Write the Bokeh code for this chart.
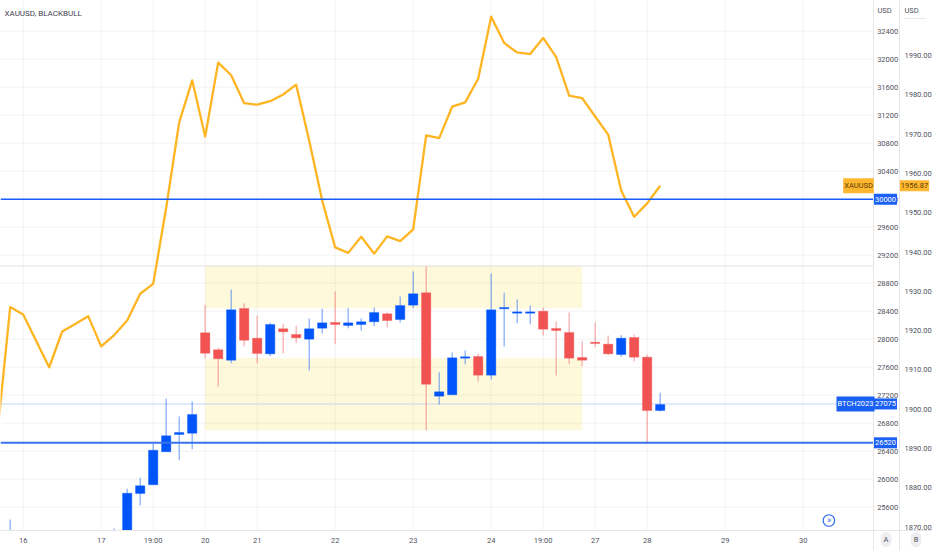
from bokeh.plotting import figure
from bokeh.models import Range1d, LinearAxis, FixedTicker, Label, ColumnDataSource, PrintfTickFormatter
from bokeh.embed import file_html
from bokeh.resources import INLINE

tick_pos = [0, 6, 10, 14, 18, 24, 30, 36, 40, 44, 48, 54, 60]
tick_txt = ["16", "17", "19:00", "20", "21", "22", "23", "24", "19:00", "27", "28", "29", "30"]

idx = [-1, 7, 8, 9, 10, 11, 12, 13, 14, 15, 16, 17, 18, 19, 20, 21, 22, 23, 24, 25, 26, 27, 28, 29,
       30, 31, 32, 33, 34, 35, 36, 37, 38, 39, 40, 41, 42, 43, 44, 45, 46, 47, 48, 49]
opens = [25267, 25267, 25267, 25796, 25920, 26392, 26639, 26657, 28091, 27849, 27700, 28439, 28014, 27791,
         28149, 28067, 28000, 28157, 28239, 28196, 28210, 28249, 28363, 28281, 28486, 28663, 27186, 27206,
         27729, 27753, 27486, 28434, 28371, 28371, 28400, 28153, 28096, 27739, 27957, 27929, 27781, 28024,
         27743, 26981]
highs = [25424, 25296, 25863, 26020, 26506, 27153, 26896, 27110, 28491, 27877, 28710, 28514, 28339, 28234,
         28220, 28191, 28296, 28434, 28681, 28443, 28296, 28453, 28381, 28610, 28967, 29039, 27529, 27810,
         27839, 27791, 28939, 28663, 28567, 28481, 28453, 28253, 28381, 27971, 28239, 28053, 28057, 28067,
         27781, 27234]
lows = [25267, 25267, 25267, 25624, 25920, 26392, 26271, 26429, 27729, 27324, 27657, 27896, 27657, 27757,
        27800, 27943, 27553, 28086, 27929, 28157, 28124, 28186, 28167, 28239, 28443, 26696, 27067, 27206,
        27643, 27396, 27424, 27896, 28229, 28214, 28053, 27481, 27643, 27614, 27886, 27771, 27749, 27681,
        26514, 26967]
closes = [25267, 25267, 25800, 25906, 26414, 26620, 26667, 26924, 27800, 27720, 28420, 27986, 27796, 28210,
          28106, 28020, 28149, 28234, 28210, 28234, 28249, 28381, 28267, 28481, 28649, 27357, 27249, 27734,
          27749, 27486, 28420, 28453, 28391, 28391, 28143, 28124, 27729, 27700, 27939, 27791, 28014, 27743,
          26981, 27067]

gold_idx = list(range(-2, 50))
gold = [1893.3, 1926.0, 1924.1, 1917.4, 1910.7, 1919.8, 1921.7, 1923.7, 1916.0, 1918.9, 1922.6, 1929.4,
        1931.9, 1951.3, 1973.0, 1983.7, 1969.4, 1988.2, 1985.0, 1977.9, 1977.5, 1978.4, 1980.1, 1982.6,
        1968.4, 1953.1, 1941.2, 1939.8, 1943.9, 1939.6, 1944.0, 1942.8, 1945.8, 1969.7, 1969.0, 1977.0,
        1978.1, 1984.1, 1999.9, 1993.2, 1990.8, 1990.4, 1994.5, 1989.6, 1979.8, 1979.2, 1974.5, 1969.9,
        1955.7, 1949.0, 1952.4, 1956.87]

zones_left = [14, 14]
zones_right = [43, 43]
zones_top = [29046, 27729]
zones_bottom = [28443, 26700]

levels_solid = [30000, 26520]
level_btc = 27075
level_sep = 29046
a_ticks = list(range(25600, 32800, 400))
b_ticks = list(range(1870, 2000, 10))

BLUE = "#0055FA"
RED = "#F15353"
FONT = "Roboto"
LABEL = "#50535e"
RULE = "#e6e6e6"

# pane limits in the chart's own coordinates
X0, X1 = -1.746, 65.385      # pane left and right
XB = 67.41                   # rule between the two price scales
XMAX = 69.95
Y_AXIS = 25267               # value of the time axis
YMIN, YMAX = 24981.4, 32838.6

p = figure(width=932, height=550, frame_width=932, frame_height=550, output_backend="svg",
           toolbar_location=None, y_axis_location="right",
           x_range=Range1d(X0, XMAX), y_range=Range1d(YMIN, YMAX),
           min_border=0, min_border_left=0, min_border_right=0, min_border_top=0, min_border_bottom=0,
           outline_line_color=None, margin=(0, 0, 0, 0))
p.extra_y_ranges = {"gold": Range1d(1864.07, 2004.02)}

ax_b = LinearAxis(y_range_name="gold", ticker=FixedTicker(ticks=b_ticks), fixed_location=XB)
p.add_layout(ax_b, "right")

ax_a = p.yaxis[0]
ax_a.ticker = FixedTicker(ticks=a_ticks)
ax_a.fixed_location = X1
for ax, standoff in ((ax_a, 4), (ax_b, 5)):
    ax.major_tick_line_color = None
    ax.minor_tick_line_color = None
    ax.major_tick_out = 0
    ax.major_tick_in = 0
    ax.axis_line_color = RULE
    ax.major_label_standoff = standoff
    ax.major_label_text_font = FONT
    ax.major_label_text_font_size = "7.5px"
    ax.major_label_text_color = LABEL
ax_a.formatter.use_scientific = False
ax_b.formatter = PrintfTickFormatter(format="%.2f")

xa = p.xaxis[0]
xa.fixed_location = Y_AXIS
xa.ticker = FixedTicker(ticks=tick_pos)
xa.major_label_overrides = dict(zip(tick_pos, tick_txt))
xa.major_tick_line_color = None
xa.minor_tick_line_color = None
xa.major_tick_out = 0
xa.major_tick_in = 0
xa.axis_line_color = RULE
xa.major_label_standoff = 5
xa.major_label_text_font = FONT
xa.major_label_text_font_size = "7.5px"
xa.major_label_text_color = LABEL

p.xgrid.grid_line_color = None
p.ygrid.grid_line_color = None
p.background_fill_color = "white"
p.border_fill_color = "white"

p.quad(left=zones_left, right=zones_right, top=zones_top, bottom=zones_bottom,
       fill_color="#FFF9DC", line_color=None)

# grid limited to the pane
p.segment(x0=tick_pos, x1=tick_pos, y0=[Y_AXIS] * len(tick_pos), y1=[YMAX] * len(tick_pos),
          line_color="black", line_alpha=0.05, line_width=1)
p.segment(x0=[X0] * len(a_ticks), x1=[X1] * len(a_ticks), y0=a_ticks, y1=a_ticks,
          line_color="black", line_alpha=0.05, line_width=1)

p.segment(x0=[X0, X0], x1=[X1, X1], y0=[level_sep, level_btc], y1=[level_sep, level_btc],
          line_color=["#d8d8d8", "#b3c9f6"], line_width=1.5, line_dash="1 1")

ups = [i for i in range(len(idx)) if closes[i] >= opens[i]]
downs = [i for i in range(len(idx)) if closes[i] < opens[i]]
for sel, col in ((ups, BLUE), (downs, RED)):
    src = ColumnDataSource(dict(
        x=[idx[i] for i in sel],
        hi=[highs[i] for i in sel],
        lo=[lows[i] for i in sel],
        top=[max(opens[i], closes[i]) for i in sel],
        bot=[min(opens[i], closes[i]) for i in sel]))
    p.segment(x0="x", x1="x", y0="lo", y1="hi", source=src, line_color=col, line_width=1.2, line_alpha=0.5)
    p.vbar(x="x", width=0.72, top="top", bottom="bot", source=src, fill_color=col,
           line_color=col, line_alpha=0.35, line_width=1)

p.line(gold_idx, gold, y_range_name="gold", line_color="#FFB522", line_width=2.3, line_join="round")

p.segment(x0=[X0], x1=[X1], y0=[levels_solid[0]], y1=[levels_solid[0]], line_color="#1A5CFF", line_width=1.4)
p.segment(x0=[X0], x1=[X1], y0=[levels_solid[1]], y1=[levels_solid[1]], line_color="#3A72EE", line_width=2)

# dotted rule under the second USD caption
p.segment(x0=[67.79], x1=[69.48], y0=[1999.44], y1=[1999.44], y_range_name="gold",
          line_color="#cfcfcf", line_width=1, line_dash="1 1")
# go-to-realtime button
p.scatter(x=[61.98], y=[25410], size=11.5, marker="circle", fill_color="white",
          line_color="#2a66f0", line_width=1.2)


def tag(text, x, y, bg, color, range_name="default"):
    p.add_layout(Label(x=x, y=y, x_units="screen", y_units="data", y_range_name=range_name, text=text,
                       text_font=FONT, text_font_size="7.5px", text_color=color, text_align="center",
                       text_baseline="middle", background_fill_color=bg, padding=(1, 3), level="overlay"))


tag("XAUUSD", 858, 1956.87, "#FFB730", "#5d3c00", "gold")
tag("1956.87", 914, 1956.87, "#FFB730", "#5d3c00", "gold")
tag("30000", 885, 30000, "#1A60F5", "white")
tag("BTCH2023", 855, level_btc, "#1A60F5", "white")
tag("27075", 885, level_btc, "#1A60F5", "white")
tag("26520", 885, levels_solid[1], "#1A60F5", "white")


def caption(text, x, y, size, color, align="left"):
    p.add_layout(Label(x=x, y=y, x_units="canvas", y_units="canvas", text=text, text_font=FONT,
                       text_font_size=size, text_color=color, text_align=align, text_baseline="middle",
                       level="overlay"))


caption("XAUUSD, BLACKBULL", 4, 13, "8px", "#3f4250")
caption("USD", 877, 10, "7.5px", LABEL)
caption("USD", 904, 10, "7.5px", LABEL)
caption("\u00bb", 828.5, 519.5, "9px", "#2a66f0", "center")

for letter, cx in (("A", 885.5), ("B", 915.5)):
    p.add_layout(Label(x=cx, y=539, x_units="canvas", y_units="canvas", text=letter, text_font=FONT,
                       text_font_size="7.5px", text_color=LABEL, text_align="center", text_baseline="middle",
                       background_fill_color="#eeeef1", padding=3, border_radius=7, level="overlay"))

open("out.html", "w").write(file_html(p, INLINE))
